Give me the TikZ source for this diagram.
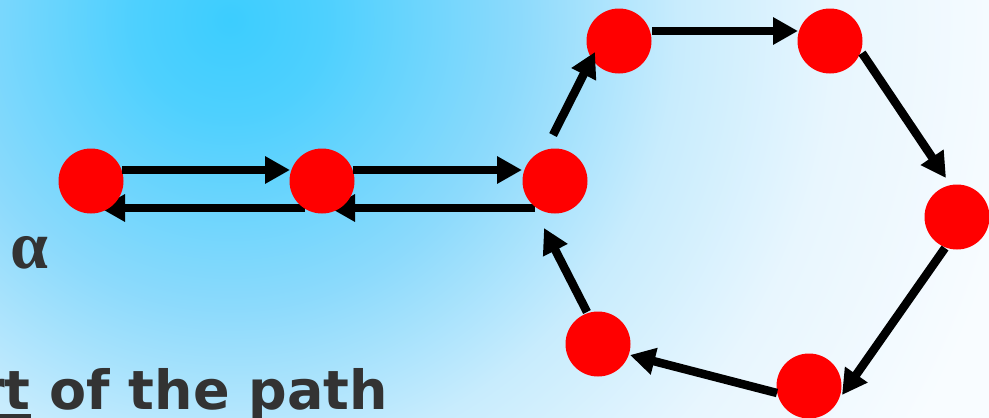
\documentclass[tikz,border=0pt]{standalone}
\usepackage{fontspec}
\setmainfont{DejaVu Sans}
\newfontfamily\alphafont{Liberation Serif}
\usetikzlibrary{arrows.meta,calc}
\definecolor{c0}{RGB}{60,205,254}
\definecolor{c1}{RGB}{78,208,254}
\definecolor{c2}{RGB}{140,218,252}
\definecolor{c3}{RGB}{200,236,253}
\definecolor{c4}{RGB}{232,246,254}
\definecolor{c5}{RGB}{248,252,255}
\definecolor{textgray}{RGB}{51,51,51}
\definecolor{dotred}{RGB}{255,0,0}
\pgfdeclareradialshading{bgshade}{\pgfpoint{0bp}{0bp}}{color(0bp)=(c0); color(3bp)=(c1); color(9bp)=(c2); color(14bp)=(c3); color(19bp)=(c4); color(25bp)=(c5); color(50bp)=(c5)}
\pgfdeclarelayer{bglayer}
\pgfdeclarelayer{midlayer}
\pgfsetlayers{bglayer,midlayer,main}
\tikzset{
  dot/.style={circle, fill=dotred, draw=none, minimum size=65pt, inner sep=0pt},
  link/.style={line width=8.5pt, -{Triangle[length=25pt,width=26pt]}},
}
\begin{document}
\begin{tikzpicture}[x=1pt,y=-1pt]
\useasboundingbox (0,0) rectangle (989,418);
\begin{pgfonlayer}{bglayer}
\fill[c5] (0,0) rectangle (989,418);
\begin{scope}
\clip (0,0) rectangle (989,418);
\shade[shading=bgshade] (230,20) circle[radius=800];
\end{scope}
\end{pgfonlayer}
% nodes
\node[dot] (A) at (91,181) {};
\node[dot] (B) at (322,181) {};
\node[dot] (C) at (555,181) {};
\node[dot] (D) at (619,41) {};
\node[dot] (E) at (830,41) {};
\node[dot] (F) at (957,217) {};
\node[dot] (G) at (809,386) {};
\node[dot] (H) at (598,344) {};
% arrows hidden behind circles
\begin{pgfonlayer}{midlayer}
\draw[link] ($(B)+(-17,27)$) -- ($(A)+(9,27)$);
\draw[link] ($(C)+(-20,27)$) -- ($(B)+(8,27)$);
\end{pgfonlayer}
% arrows on top
\draw[link] ($(A)+(31,-11)$) -- ($(B)+(-32,-11)$);
\draw[link] ($(B)+(31,-11)$) -- ($(C)+(-33,-11)$);
\draw[link] ($(C)+(-2,-46)$) -- ($(D)+(-24,11)$);
\draw[link] ($(D)+(33,-10)$) -- ($(E)+(-32,-10)$);
\draw[link] ($(E)+(32,12)$) -- ($(F)+(-11,-39)$);
\draw[link] ($(F)+(-12,31)$) -- ($(G)+(33,9)$);
\draw[link] ($(G)+(-32,7)$) -- ($(H)+(32,11)$);
\draw[link] ($(H)+(-11,-32)$) -- ($(C)+(-11,47)$);
% texts
\node[anchor=base west, inner sep=0pt, text=textgray, font=\alphafont\bfseries\fontsize{68}{68}\selectfont] (alpha) at (10,268) {α};
\node[anchor=base west, inner sep=0pt, text=textgray, font=\bfseries\fontsize{54}{54}\selectfont] (caption) at (-22,409) {rt of the path};
\fill[textgray] (0,414) rectangle (31,421);
\end{tikzpicture}
\end{document}
